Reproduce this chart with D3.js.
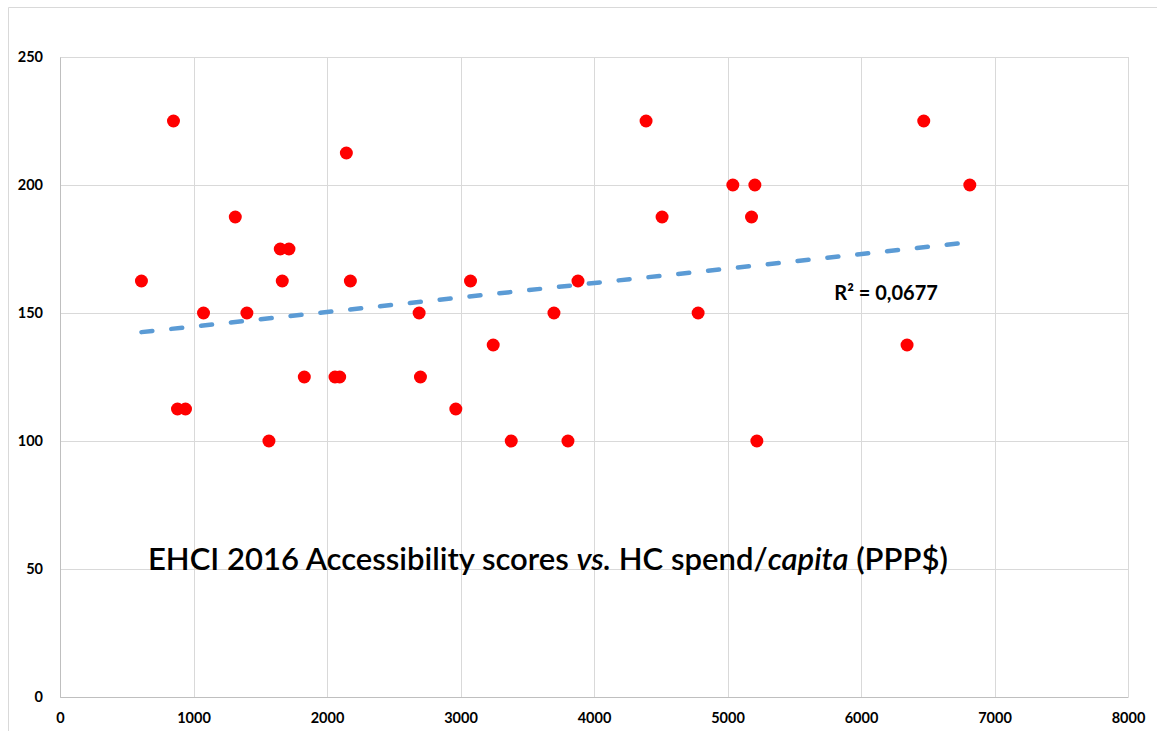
<!DOCTYPE html>
<html>
<head>
<meta charset="utf-8">
<script src="https://cdn.jsdelivr.net/npm/d3@7"></script>
<style>
  body { margin: 0; background: #fff; }
  svg { display: block; }
</style>
</head>
<body>
<div id="chart"></div>
<script>
// HC spend per capita (PPP$) and EHCI 2016 accessibility score, one entry per country
const spend = [610, 850, 880, 940, 1075, 1313, 1400, 1565, 1650, 1665, 1715, 1830, 2060, 2095, 2145, 2175,
               2690, 2700, 2965, 3075, 3245, 3380, 3700, 3805, 3880, 4390, 4510, 4780, 5040, 5180, 5205, 5220,
               6345, 6470, 6815];
const score = [162.5, 225, 112.5, 112.5, 150, 187.5, 150, 100, 175, 162.5, 175, 125, 125, 125, 212.5, 162.5,
               150, 125, 112.5, 162.5, 137.5, 100, 150, 100, 162.5, 225, 187.5, 150, 200, 187.5, 200, 100,
               137.5, 225, 200];
const xTicks = [0, 1000, 2000, 3000, 4000, 5000, 6000, 7000, 8000];
const yTicks = [0, 50, 100, 150, 200, 250];
const rSquaredLabel = "R² = 0,0677";

const W = 1157, H = 731;
const margin = { top: 57, right: 29, bottom: 34, left: 60 };
const width = W - margin.left - margin.right;
const height = H - margin.top - margin.bottom;

const svg = d3.select("#chart").append("svg")
    .attr("width", W)
    .attr("height", H);

// outer chart frame
svg.append("path")
    .attr("d", `M${W},7.5 H8.5 V${H}`)
    .attr("fill", "none")
    .attr("stroke", "#d9d9d9");

const g = svg.append("g")
    .attr("transform", `translate(${margin.left},${margin.top})`);

const x = d3.scaleLinear().domain([0, 8000]).range([0, width]);
const y = d3.scaleLinear().domain([0, 250]).range([height, 0]);

// gridlines
g.append("g")
    .selectAll("line")
    .data(yTicks)
    .join("line")
    .attr("x1", 0).attr("x2", width)
    .attr("y1", d => Math.round(y(d)) + 0.5)
    .attr("y2", d => Math.round(y(d)) + 0.5)
    .attr("stroke", "#d9d9d9");

g.append("g")
    .selectAll("line")
    .data(xTicks)
    .join("line")
    .attr("y1", 0).attr("y2", height)
    .attr("x1", d => Math.round(x(d)) + 0.5)
    .attr("x2", d => Math.round(x(d)) + 0.5)
    .attr("stroke", "#d9d9d9");

// axes
const xAxis = g.append("g")
    .attr("transform", `translate(0,${height})`)
    .call(d3.axisBottom(x).tickValues(xTicks).tickSize(0).tickPadding(16).tickFormat(d3.format("d")));
const yAxis = g.append("g")
    .call(d3.axisLeft(y).tickValues(yTicks).tickSize(0).tickPadding(17));

[xAxis, yAxis].forEach(a => {
    a.select(".domain").attr("stroke", "#bfbfbf");
    a.selectAll("text")
        .attr("fill", "#000")
        .style("font-family", "Lato, 'Open Sans', sans-serif")
        .style("font-weight", "bold")
        .style("font-size", "14.5px");
});

// least squares trendline
const mx = d3.mean(spend), my = d3.mean(score);
const slope = d3.sum(spend, (v, i) => (v - mx) * (score[i] - my)) / d3.sum(spend, v => (v - mx) ** 2);
const intercept = my - slope * mx;
const xExt = d3.extent(spend);

g.append("line")
    .attr("x1", x(xExt[0])).attr("y1", y(intercept + slope * xExt[0]))
    .attr("x2", x(xExt[1])).attr("y2", y(intercept + slope * xExt[1]))
    .attr("stroke", "#5b9bd5")
    .attr("stroke-width", 4.5)
    .attr("stroke-linecap", "round")
    .attr("stroke-dasharray", "11 19");

// points
g.selectAll("circle")
    .data(spend)
    .join("circle")
    .attr("cx", d => x(d))
    .attr("cy", (d, i) => y(score[i]))
    .attr("r", 6.5)
    .attr("fill", "#ff0000");

// R² label
g.append("text")
    .attr("x", x(5800))
    .attr("y", y(155))
    .attr("fill", "#000")
    .style("font-family", "Lato, 'Open Sans', sans-serif")
    .style("font-weight", "bold")
    .style("font-size", "20px")
    .text(rSquaredLabel);

// title
const title = svg.append("text")
    .attr("x", 148)
    .attr("y", 570)
    .attr("fill", "#000")
    .style("font-family", "Lato, 'Open Sans', sans-serif")
    .style("font-weight", "600")
    .style("font-size", "30px");
title.append("tspan").text("EHCI 2016 Accessibility scores ");
title.append("tspan").style("font-style", "italic").text("vs.");
title.append("tspan").text(" HC spend/");
title.append("tspan").style("font-style", "italic").text("capita");
title.append("tspan").text(" (PPP$)");
const tw = title.node().getComputedTextLength();
title.style("font-size", (30 * 800 / tw).toFixed(2) + "px");
</script>
</body>
</html>
